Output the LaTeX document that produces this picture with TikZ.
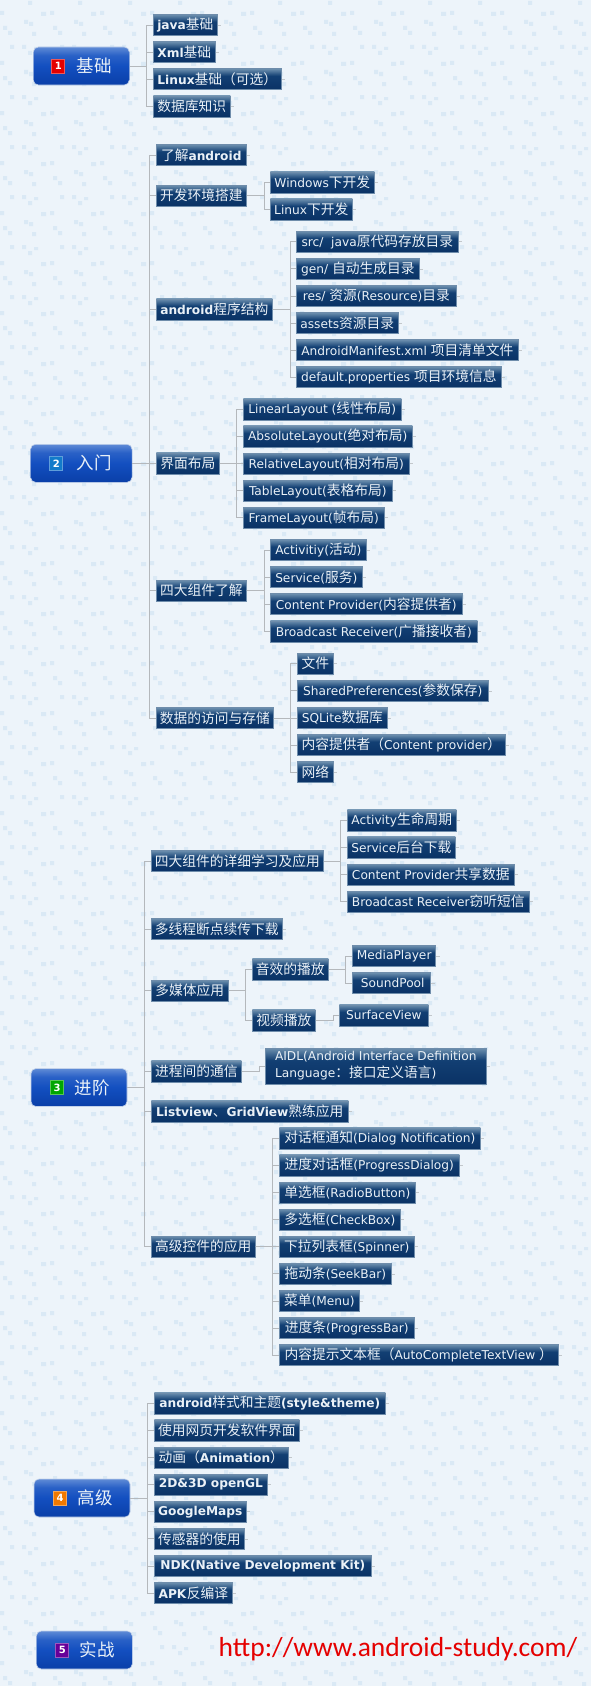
\documentclass[tikz,border=0pt]{standalone}
\usepackage{fontspec}
\setmainfont{DejaVu Sans}
\newfontfamily\cjk[Scale=1.127]{Noto Sans CJK SC}
\newfontfamily\urlfont{Carlito}
\usepackage{tikz}
\usetikzlibrary{positioning,calc}
\newcommand{\zh}[1]{{\cjk #1}}
\definecolor{paper}{HTML}{EDF4FA}
\definecolor{speck}{HTML}{DAE9F5}
\definecolor{wire}{HTML}{B4B8BC}
\definecolor{leafedge}{HTML}{6F8DAB}
\definecolor{leaftop}{HTML}{6D90AF}
\definecolor{leafmid}{HTML}{123F73}
\definecolor{leafbot}{HTML}{0A3265}
\definecolor{leaftext}{HTML}{EAF1F7}
\definecolor{rootedge}{HTML}{C3D2EA}
\definecolor{roottop}{HTML}{5F8BD6}
\definecolor{rootmid}{HTML}{134FC0}
\definecolor{rootbot}{HTML}{0A3FA8}
\pgfdeclareverticalshading{leafshade}{100bp}{color(0bp)=(leafbot); color(25bp)=(leafbot); color(58bp)=(leafmid); color(75bp)=(leaftop); color(100bp)=(leaftop)}
\pgfdeclareverticalshading{rootshade}{100bp}{color(0bp)=(rootbot); color(25bp)=(rootbot); color(50bp)=(rootmid); color(64bp)=(rootmid!70!roottop); color(75bp)=(roottop); color(100bp)=(roottop)}
\tikzset{
  leaf/.style={rectangle, draw=leafedge, line width=.6pt, shading=leafshade, minimum width=#1pt, minimum height=21pt, inner sep=0pt, anchor=west, align=left, text=leaftext, font=\fontsize{12.2}{17}\selectfont,
    append after command={(\tikzlastnode.east) edge[draw=wire!75!paper, line width=.5pt] ++(3.5,0)}},
  rootbox/.style={rectangle, rounded corners=5pt, draw=rootedge, line width=.6pt, shading=rootshade, minimum width=#1pt, minimum height=38pt, inner sep=0pt, text=leaftext, font=\fontsize{15.5}{18}\selectfont},
  badge/.style={rectangle, draw=#1!65!white, line width=.8pt, fill=#1, minimum width=13pt, minimum height=14pt, inner sep=0pt, text=white, font=\fontsize{10}{10}\bfseries\selectfont},
  under/.style={below=27.1pt of #1.west, anchor=west},
  link/.style={draw=wire, line width=.8pt},
  bgmark/.style={fill=speck}
}
\begin{document}
\begin{tikzpicture}[x=1pt, y=-1pt]
    \useasboundingbox (0,0) rectangle (591,1686);
    % backdrop
    \fill[paper] (0,0) rectangle (591,1686);
    \foreach \col in {0,...,11} \foreach \row in {0,...,33}
        \fill[bgmark, shift={(\col*50,\row*50)}] (28,1) rectangle ++(4,4) (41,12) rectangle ++(5,4) (0,11) rectangle ++(4,4)
            (24,20) rectangle ++(4,4) (29,22) rectangle ++(4,4) (3,26) rectangle ++(4,4) (8,31) rectangle ++(4,4)
            (32,32) rectangle ++(4,4) (10,45) rectangle ++(4,4) (22,45) rectangle ++(4,4) (34,47) rectangle ++(4,3);

    % 1 base
    \node [rootbox=96] (base) at (81.3,66) {\hspace*{26pt}\zh{基础}};
    \node [badge=red!90!black] (baseno) at ($(base.center)+(-23,0)$) {1};
    \node [leaf=64] (java) at (153,25) {\textbf{java}\zh{基础}};
    \node [leaf=62, under=java] (xml) {\textbf{Xml}\zh{基础}};
    \node [leaf=128, under=xml] (linux) {\textbf{Linux}\zh{基础（可选）}};
    \node [leaf=77, under=linux] (dbase) {\zh{数据库知识}};
    \coordinate (busa) at (146.5,0);
    \foreach \kid in {java,xml,linux,dbase}
        \draw [link] (base.east) -- (busa |- base.east) |- (\kid.west);

    % 2 intro
    \node [rootbox=101.5] (intro) at (81.3,463.3) {\hspace*{26pt}\zh{入门}};
    \node [badge=cyan!60!blue] (introno) at ($(intro.center)+(-25,0)$) {2};
    \node [leaf=90] (know) at (156,155) {\zh{了解}\textbf{android}};
    \node [leaf=90] (setup) at (156,195.7) {\zh{开发环境搭建}};
    \node [leaf=116] (struct) at (156,309.3) {\textbf{android}\zh{程序结构}};
    \node [leaf=63] (ui) at (156,463.3) {\zh{界面布局}};
    \node [leaf=90] (four) at (156,590.7) {\zh{四大组件了解}};
    \node [leaf=117] (data) at (156,718) {\zh{数据的访问与存储}};
    \coordinate (busb) at (149,0);
    \foreach \kid in {know,setup,struct,ui,four,data}
        \draw [link] (intro.east) -- (busb |- intro.east) |- (\kid.west);

    \node [leaf=104] (win) at (270,182.3) {Windows\zh{下开发}};
    \node [leaf=82, under=win] (lin) {Linux\zh{下开发}};
    \foreach \kid in {win,lin}
        \draw [link] (setup.east) -- (264,195.7) |- (\kid.west);

    \node [leaf=162] (src) at (296,241.7) {src/\ \ java\zh{原代码存放目录}};
    \node [leaf=123, under=src] (gen) {gen/ \zh{自动生成目录}};
    \node [leaf=160, under=gen] (res) {res/ \zh{资源}(Resource)\zh{目录}};
    \node [leaf=102, under=res] (assets) {assets\zh{资源目录}};
    \node [leaf=222, under=assets] (manifest) {AndroidManifest.xml \zh{项目清单文件}};
    \node [leaf=205, under=manifest] (props) {default.properties \zh{项目环境信息}};
    \foreach \kid in {src,gen,res,assets,manifest,props}
        \draw [link] (struct.east) -- (290,309.3) |- (\kid.west);

    \node [leaf=158] (linear) at (243,409.3) {LinearLayout (\zh{线性布局})};
    \node [leaf=169, under=linear] (absolute) {AbsoluteLayout(\zh{绝对布局})};
    \node [leaf=166, under=absolute] (relative) {RelativeLayout(\zh{相对布局})};
    \node [leaf=149, under=relative] (table) {TableLayout(\zh{表格布局})};
    \node [leaf=141, under=table] (frame) {FrameLayout(\zh{帧布局})};
    \foreach \kid in {linear,absolute,relative,table,frame}
        \draw [link] (ui.east) -- (236.7,463.3) |- (\kid.west);

    \node [leaf=96] (activity) at (270,550) {Activitiy(\zh{活动})};
    \node [leaf=92, under=activity] (service) {Service(\zh{服务})};
    \node [leaf=192, under=service] (provider) {Content Provider(\zh{内容提供者})};
    \node [leaf=207, under=provider] (receiver) {Broadcast Receiver(\zh{广播接收者})};
    \foreach \kid in {activity,service,provider,receiver}
        \draw [link] (four.east) -- (264,590.7) |- (\kid.west);

    \node [leaf=36] (files) at (297,663.7) {\zh{文件}};
    \node [leaf=191, under=files] (shared) {SharedPreferences(\zh{参数保存})};
    \node [leaf=90, under=shared] (sqlite) {SQLite\zh{数据库}};
    \node [leaf=208, under=sqlite] (cprov) {\zh{内容提供者（}Content provider\zh{）}};
    \node [leaf=36, under=cprov] (net) {\zh{网络}};
    \foreach \kid in {files,shared,sqlite,cprov,net}
        \draw [link] (data.east) -- (290.6,718) |- (\kid.west);

    % 3 advance
    \node [rootbox=96] (adv) at (79,1087.5) {\hspace*{26pt}\zh{进阶}};
    \node [badge=green!65!black] (advno) at ($(adv.center)+(-22,0)$) {3};
    \node [leaf=172] (detail) at (151,861) {\zh{四大组件的详细学习及应用}};
    \node [leaf=131] (thread) at (151,929) {\zh{多线程断点续传下载}};
    \node [leaf=77] (media) at (151,990.7) {\zh{多媒体应用}};
    \node [leaf=90] (ipc) at (151,1071.3) {\zh{进程间的通信}};
    \node [leaf=197] (lists) at (151,1111.3) {\textbf{Listview}\zh{、}\textbf{GridView}\zh{熟练应用}};
    \node [leaf=104] (widget) at (151,1246.5) {\zh{高级控件的应用}};
    \coordinate (busc) at (144.4,0);
    \foreach \kid in {detail,thread,media,ipc,lists,widget}
        \draw [link] (adv.east) -- (busc |- adv.east) |- (\kid.west);

    \node [leaf=109] (life) at (347,820.3) {Activity\zh{生命周期}};
    \node [leaf=108, under=life] (backdl) {Service\zh{后台下载}};
    \node [leaf=167, under=backdl] (share) {Content Provider\zh{共享数据}};
    \node [leaf=182, under=share] (sms) {Broadcast Receiver\zh{窃听短信}};
    \foreach \kid in {life,backdl,share,sms}
        \draw [link] (detail.east) -- (340,861) |- (\kid.west);

    \node [leaf=76] (sound) at (252,969.3) {\zh{音效的播放}};
    \node [leaf=63] (video) at (252,1020.3) {\zh{视频播放}};
    \foreach \kid in {sound,video}
        \draw [link] (media.east) -- (245.4,990.7) |- (\kid.west);
    \node [leaf=83] (player) at (352.4,956) {MediaPlayer};
    \node [leaf=78, under=player] (pool) {\,SoundPool};
    \foreach \kid in {player,pool}
        \draw [link] (sound.east) -- (345.6,969.3) |- (\kid.west);
    \node [leaf=89] (surface) at (339,1015.3) {SurfaceView};
    \draw [link] (video.east) -- (333,1020.3) |- (surface.west);

    \node [leaf=221, minimum height=36pt] (aidl) at (265,1066) {AIDL(Android Interface Definition\\Language\zh{：接口定义语言})};
    \draw [link] (ipc.east) -- (259,1071.3) |- (aidl.west);

    \node [leaf=201] (dialog) at (279,1138.3) {\zh{对话框通知}(Dialog Notification)};
    \node [leaf=180, under=dialog] (progdlg) {\zh{进度对话框}(ProgressDialog)};
    \node [leaf=136, under=progdlg] (radio) {\zh{单选框}(RadioButton)};
    \node [leaf=121, under=radio] (check) {\zh{多选框}(CheckBox)};
    \node [leaf=135, under=check] (spinner) {\zh{下拉列表框}(Spinner)};
    \node [leaf=112, under=spinner] (seek) {\zh{拖动条}(SeekBar)};
    \node [leaf=80, under=seek] (menu) {\zh{菜单}(Menu)};
    \node [leaf=135, under=menu] (progbar) {\zh{进度条}(ProgressBar)};
    \node [leaf=279, under=progbar] (auto) {\zh{内容提示文本框（}AutoCompleteTextView \zh{）}};
    \foreach \kid in {dialog,progdlg,radio,check,spinner,seek,menu,progbar,auto}
        \draw [link] (widget.east) -- (272.5,1246.5) |- (\kid.west);

    % 4 senior
    \node [rootbox=96] (senior) at (82,1498) {\hspace*{26pt}\zh{高级}};
    \node [badge=orange!95!black] (seniorno) at ($(senior.center)+(-22,0)$) {4};
    \node [leaf=231] (theme) at (154,1403.3) {\textbf{android}\zh{样式和主题}\textbf{(style\&theme)}};
    \node [leaf=145, under=theme] (webui) {\zh{使用网页开发软件界面}};
    \node [leaf=134, under=webui] (anim) {\zh{动画（}\textbf{Animation}\zh{）}};
    \node [leaf=113, under=anim] (opengl) {\textbf{2D\&3D openGL}};
    \node [leaf=92, under=opengl] (gmaps) {\textbf{GoogleMaps}};
    \node [leaf=90, under=gmaps] (sensor) {\zh{传感器的使用}};
    \node [leaf=217, under=sensor] (ndk) {\textbf{NDK(Native Development Kit)}};
    \node [leaf=78, under=ndk] (apk) {\textbf{APK}\zh{反编译}};
    \coordinate (busd) at (147.4,0);
    \foreach \kid in {theme,webui,anim,opengl,gmaps,sensor,ndk,apk}
        \draw [link] (senior.east) -- (busd |- senior.east) |- (\kid.west);

    % 5 practice
    \node [rootbox=96] (prac) at (84.3,1650) {\hspace*{26pt}\zh{实战}};
    \node [badge=violet!80!blue] (pracno) at ($(prac.center)+(-22,0)$) {5};
    \node [text=red!90!black, font=\urlfont\fontsize{27.5}{30}\selectfont] (site) at (398,1649) {http://www.android-study.com/};
\end{tikzpicture}
\end{document}
